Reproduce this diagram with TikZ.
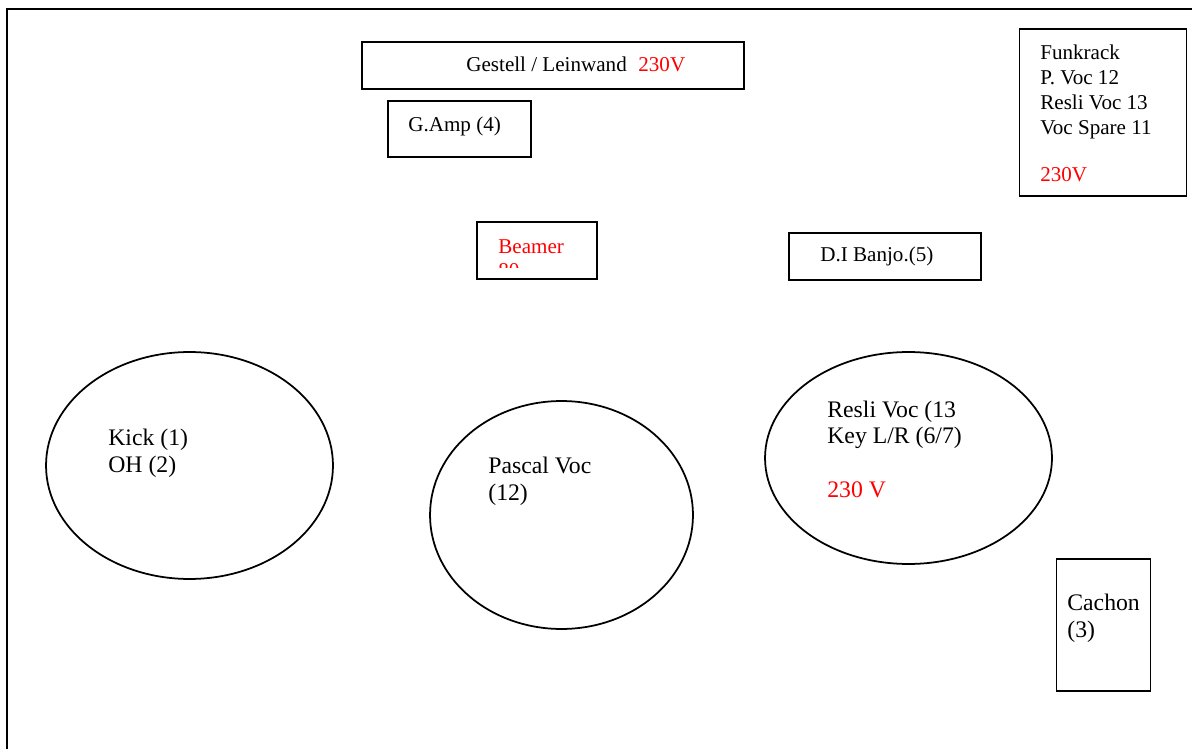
\documentclass[tikz,border=0pt]{standalone}
\usepackage{fontspec}
\setmainfont{Liberation Serif}
\usetikzlibrary{shapes.geometric, positioning}

\begin{document}
\begin{tikzpicture}[
	x=0.02cm, y=-0.02cm,
	box/.style={draw, line width=1pt, inner sep=0pt},
	oval/.style={draw, ellipse, line width=1pt, inner sep=0pt},
	small/.style={inner sep=0pt, align=left, anchor=base west, font=\fontsize{12}{14.2}\selectfont},
	big/.style={inner sep=0pt, align=left, anchor=base west, font=\fontsize{13.5}{15.1}\selectfont}
	]
	\useasboundingbox (0,0) rectangle (1192,749);
	\coordinate (f0) at (7,749);
	\coordinate (f1) at (7,9);
	\coordinate (f2) at (1192,9);
	\draw[line width=1.1pt] (f0) -- (f1) -- (f2);

	\node[box, minimum width=7.64cm, minimum height=0.94cm] (gestell) at (553,65.5) {};
	\node[small] (gestelltxt) at (466,72) {Gestell / Leinwand\hspace{0.55em}\textcolor{red}{230V}};

	\node[box, minimum width=2.86cm, minimum height=1.12cm] (gamp) at (459.5,129) {};
	\node[small] (gamptxt) at (408,132) {G.Amp (4)};

	\node[box, minimum width=3.34cm, minimum height=3.34cm] (funk) at (1103,112.5) {};
	\node[small] (funktxt) at (1040,182) {Funkrack\\P. Voc 12\\Resli Voc 13\\Voc Spare 11\\[13pt]\textcolor{red}{230V}};

	\node[box, minimum width=2.4cm, minimum height=1.14cm] (beamer) at (537,250.5) {};
	\begin{scope}
		\clip (477,222) rectangle (597,268);
		\node[small, text=red] (beamertxt) at (498,278) {Beamer\\80};
	\end{scope}

	\node[box, minimum width=3.84cm, minimum height=0.94cm] (banjo) at (885,256.5) {};
	\node[small] (banjotxt) at (820,262) {D.I Banjo.(5)};

	\node[oval, minimum width=5.74cm, minimum height=4.54cm] (kick) at (189.5,465.5) {};
	\node[big] (kicktxt) at (108,472) {Kick (1)\\OH (2)};

	\node[oval, minimum width=5.26cm, minimum height=4.56cm] (pascal) at (561.5,515) {};
	\node[big] (pascaltxt) at (488,500) {Pascal Voc\\(12)};

	\node[oval, minimum width=5.74cm, minimum height=4.24cm] (resli) at (908.5,458) {};
	\node[big] (reslitxt) at (827,497.5) {Resli Voc (13\\Key L/R (6/7)\\[15.5pt]\textcolor{red}{230 V}};

	\node[box, minimum width=1.88cm, minimum height=2.64cm] (cachon) at (1103.5,625) {};
	\node[big] (cachontxt) at (1067,637) {Cachon\\(3)};
\end{tikzpicture}
\end{document}
